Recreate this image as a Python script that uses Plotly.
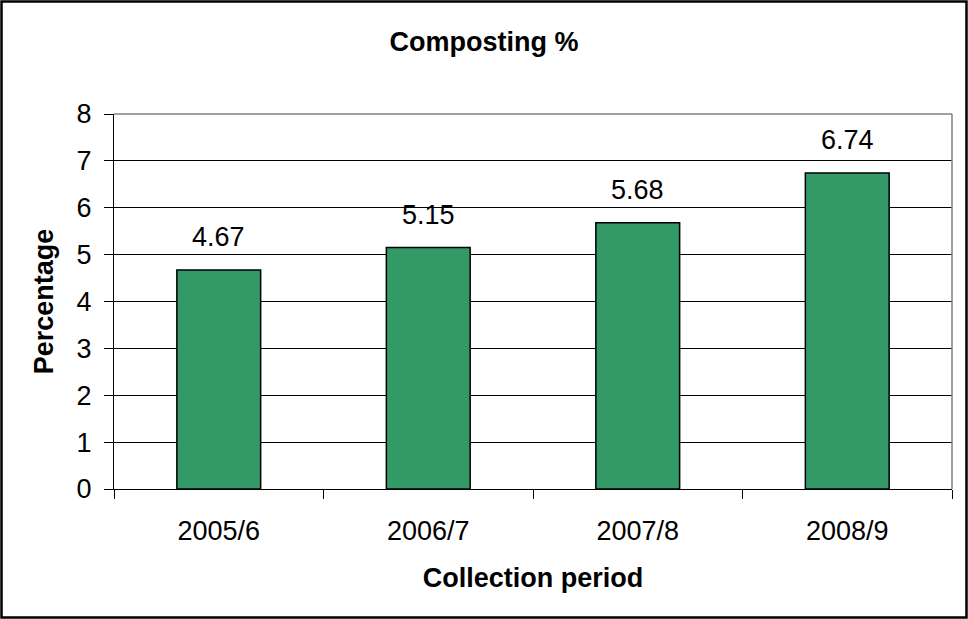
import plotly.graph_objects as go

categories = ["2005/6", "2006/7", "2007/8", "2008/9"]
values = [4.67, 5.15, 5.68, 6.74]
value_labels = ["4.67", "5.15", "5.68", "6.74"]
y_ticks = [0, 1, 2, 3, 4, 5, 6, 7, 8]

W, H = 968, 619
L, R, T, B = 114, 16, 114, 130
pw, ph = W - L - R, H - T - B

FONT = "Liberation Sans, Arial, sans-serif"
FS = 27

fig = go.Figure()
fig.add_trace(go.Bar(
    x=categories, y=values, width=0.4,
    marker=dict(color="#339966", line=dict(color="#000000", width=1.5)),
    hoverinfo="skip", showlegend=False,
))

for c, v, t in zip(categories, values, value_labels):
    fig.add_annotation(x=c, y=v, text=t, showarrow=False, xref="x", yref="y",
                       yanchor="bottom", yshift=16,
                       font=dict(family=FONT, size=FS, color="#000"))

fig.update_layout(
    width=W, height=H,
    margin=dict(l=L, r=R, t=T, b=B, pad=0),
    paper_bgcolor="#ffffff", plot_bgcolor="#ffffff",
    title=dict(text="<b>Composting %</b>", x=0.5, xanchor="center",
               y=1 - 42 / H, yanchor="middle",
               font=dict(family=FONT, size=FS, color="#000")),
    bargap=0.6,
    xaxis=dict(
        type="category", showgrid=False, showline=True, linecolor="#000", linewidth=1.3,
        ticks="outside", tickson="boundaries", ticklen=9, tickcolor="#000", tickwidth=1.3,
        tickfont=dict(family=FONT, size=FS, color="#000"),
        title=dict(text="<b>Collection period</b>", standoff=23,
                   font=dict(family=FONT, size=FS, color="#000")),
        ticklabelstandoff=17,
    ),
    yaxis=dict(
        range=[0, 8], tickvals=y_ticks, showgrid=True, gridcolor="#000", gridwidth=1,
        showline=True, linecolor="#000", linewidth=1.3, zeroline=True, zerolinecolor="#000",
        zerolinewidth=1.3,
        ticks="outside", ticklen=9, tickcolor="#000", tickwidth=1.3,
        tickfont=dict(family=FONT, size=FS, color="#000"),
        title=dict(text="<b>Percentage</b>", standoff=14,
                   font=dict(family=FONT, size=FS, color="#000")),
        ticklabelstandoff=7,
    ),
)

# plot-area border (top and right, gray)
fig.add_shape(type="line", xref="paper", yref="paper", x0=0, x1=1, y0=1, y1=1,
              line=dict(color="#808080", width=1.5), layer="above")
fig.add_shape(type="line", xref="paper", yref="paper", x0=1, x1=1, y0=0, y1=1,
              line=dict(color="#808080", width=1.5), layer="above")

# outer chart border
fig.add_shape(type="rect", xref="paper", yref="paper",
              x0=(1.5 - L) / pw, x1=(W - 1.5 - L) / pw,
              y0=-(H - 1.5 - T - ph) / ph, y1=1 + (T - 1.5) / ph,
              line=dict(color="#000", width=2.5), fillcolor="rgba(0,0,0,0)", layer="above")

fig.write_html("out.html", config={"displayModeBar": False},
               post_script="document.body.style.margin='0';document.body.style.overflow='hidden';")
